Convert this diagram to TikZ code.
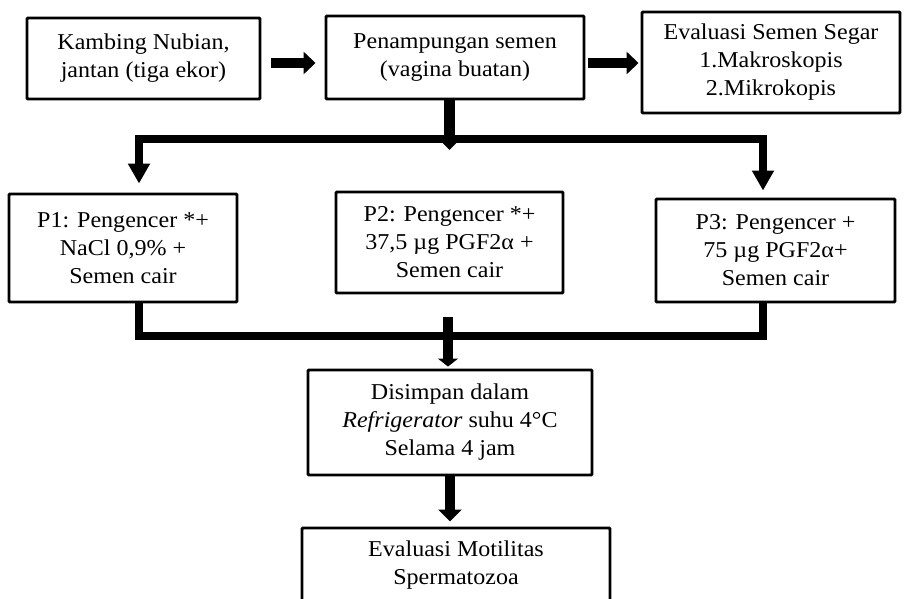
\documentclass[tikz,border=0pt]{standalone}
\usepackage{fontspec}
\setmainfont[FakeStretch=1.06]{Liberation Serif}
\usetikzlibrary{arrows.meta}
\begin{document}
\begin{tikzpicture}[x=0.75pt,y=-0.75pt,
  box/.style={draw=black, line width=2.2pt, fill=white, align=center, inner sep=0pt,
    rounded corners=0.8pt, text=black, font=\fontsize{17}{21}\selectfont},
  conn/.style={line width=6.5pt, line join=miter, draw=black},
  harr/.style={line width=7.5pt, -{Triangle[length=9pt,width=16.5pt]}},
  darr/.style={line width=8.2pt, -{Triangle[length=9pt,width=17.25pt]}},
  brarr/.style={line width=6.5pt, line join=miter, -{Triangle[length=15pt,width=15.75pt]}},
  sqarr/.style={line width=7.5pt, -{Triangle[length=6pt,width=15pt]}},
]
\fill[white] (0,0) rectangle (904,599);
\useasboundingbox (0,0) rectangle (904,599);

% boxes
\node[box, minimum width=174.75pt, minimum height=60.75pt] (b1) at (143.5,58.5)
  {Kambing Nubian,\\jantan (tiga ekor)};
\node[box, minimum width=193.5pt, minimum height=62.25pt] (b2) at (455,57.5)
  {Penampungan semen\\(vagina buatan)};
\node[box, minimum width=193.5pt, minimum height=75.75pt] (b3) at (771,62.5)
  {Evaluasi Semen Segar\\1.Makroskopis\\2.Mikrokopis};
\node[box, minimum width=171pt, minimum height=81pt] (p1) at (123,248)
  {P1: Pengencer *+\\NaCl 0,9\% +\\Semen cair};
\node[box, minimum width=170.25pt, minimum height=75.75pt] (p2) at (449.5,242.5)
  {P2: Pengencer *+\\37,5 µg PGF2α +\\Semen cair};
\node[box, minimum width=179.25pt, minimum height=77.25pt] (p3) at (775.5,250.5)
  {P3: Pengencer +\\75 µg PGF2α+\\Semen cair};
\node[box, minimum width=213pt, minimum height=78.75pt] (d) at (450,422.5)
  {Disimpan dalam\\\textit{Refrigerator} suhu 4°C\\Selama 4 jam};
\node[box, minimum width=231pt, minimum height=56.25pt] (e) at (456,565.5)
  {Evaluasi Motilitas\\Spermatozoa};

% top row arrows
\draw[harr] ([shift={(10,4.5)}]b1.east) -- ([shift={(-9,5.5)}]b2.west);
\draw[harr] ([shift={(3,5.5)}]b2.east) -- ([shift={(-2,0.5)}]b3.west);

% split
\coordinate (sp) at (449.5,139);
\coordinate (spL) at (139,139);
\coordinate (spR) at (763,139);
\draw[darr] ([shift={(-5.5,0)}]b2.south) -- ([shift={(0,11)}]sp);
\draw[brarr] (sp) -- (spL) -- ([shift={(16,-9)}]p1.north);
\draw[brarr] (sp) -- (spR) -- ([shift={(-12.5,-7)}]p3.north);

% merge
\coordinate (mL) at (139,336);
\coordinate (mR) at (763,336);
\draw[conn] ([shift={(16,0)}]p1.south) -- (mL) -- (mR) -- ([shift={(-12.5,0)}]p3.south);
\coordinate (mt) at (448,317);
\draw[sqarr] (mt) -- ([shift={(-2,-2)}]d.north);

% bottom arrow
\draw[darr] (d.south) -- ([shift={(-6,-5)}]e.north);
\end{tikzpicture}
\end{document}
